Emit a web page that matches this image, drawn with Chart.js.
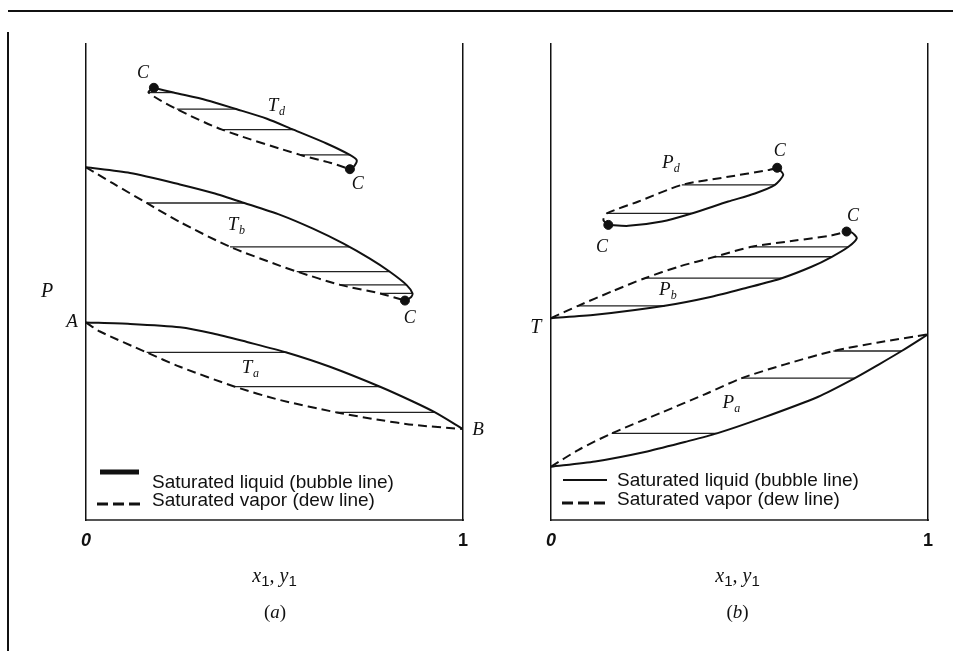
<!DOCTYPE html>
<html>
<head>
<meta charset="utf-8">
<script src="https://cdn.jsdelivr.net/npm/chart.js@4.4.1/dist/chart.umd.min.js"></script>
<style>
html, body { margin: 0; padding: 0; background: #fff; }
#wrap { position: relative; width: 953px; height: 651px; overflow: hidden; background: #fff; }
#wrap canvas { position: absolute; left: 0; top: 0; }
.rule { position: absolute; background: #111; }
</style>
</head>
<body>
<div id="wrap">
  <div class="rule" style="left:8px;top:10px;width:945px;height:2px"></div>
  <div class="rule" style="left:7px;top:32px;width:2px;height:619px"></div>
  <canvas id="chartA" width="953" height="651"></canvas>
  <canvas id="chartB" width="953" height="651"></canvas>
</div>
<script>
// (a) P vs x1,y1 at temperatures Ta < Tb < Td   -- [x1, P]
const taBubble = [[0, 41.5], [0.117, 41.2], [0.249, 40.5], [0.337, 39.2], [0.427, 37.4], [0.532, 35.2], [0.647, 32.2], [0.780, 28.0], [0.867, 24.9], [0.926, 22.6], [1, 19.1]];
const taDew    = [[0, 41.5], [0.037, 39.6], [0.161, 35.2], [0.249, 32.2], [0.395, 28.0], [0.515, 25.2], [0.665, 22.6], [0.780, 21.0], [0.867, 20.0], [1, 19.1]];
const taTies   = [[0.161, 0.532, 35.2], [0.395, 0.780, 28.0], [0.665, 0.926, 22.6]];

const tbBubble = [[0, 74.1], [0.117, 72.9], [0.249, 70.5], [0.337, 68.7], [0.42, 66.6], [0.515, 64.1], [0.602, 61.2], [0.682, 58.1], [0.753, 54.9], [0.805, 52.2], [0.850, 49.4], [0.866, 47.6], [0.862, 46.8], [0.846, 46.1]];
const tbDew    = [[0, 74.1], [0.072, 70.7], [0.161, 66.6], [0.249, 62.6], [0.382, 57.4], [0.515, 53.4], [0.559, 52.2], [0.674, 49.4], [0.780, 47.6], [0.846, 46.1]];
const tbTies   = [[0.161, 0.42, 66.6], [0.382, 0.698, 57.4], [0.559, 0.805, 52.2], [0.674, 0.850, 49.4], [0.780, 0.866, 47.6]];

const tdBubble = [[0.180, 90.8], [0.232, 89.8], [0.320, 88.2], [0.400, 86.3], [0.480, 84.3], [0.550, 82.0], [0.638, 79.1], [0.700, 76.7], [0.718, 75.6], [0.712, 74.4], [0.700, 73.7]];
const tdDew    = [[0.180, 90.8], [0.166, 89.8], [0.241, 86.3], [0.361, 82.0], [0.568, 76.7], [0.650, 75.0], [0.700, 73.7]];
const tdTies   = [[0.166, 0.232, 89.8], [0.241, 0.400, 86.3], [0.361, 0.550, 82.0], [0.568, 0.700, 76.7]];

const criticalA = [[0.180, 90.8], [0.700, 73.7], [0.846, 46.1]];

// (b) T vs x1,y1 at pressures Pa > Pb > Pd   -- [x1, T]
const paBubble = [[0, 11.2], [0.117, 12.3], [0.249, 14.3], [0.355, 16.4], [0.440, 18.2], [0.559, 21.4], [0.709, 25.9], [0.806, 29.8], [0.868, 32.6], [0.930, 35.5], [1, 39.0]];
const paDew    = [[0, 11.2], [0.072, 14.7], [0.161, 18.2], [0.294, 22.6], [0.408, 26.4], [0.506, 29.8], [0.621, 32.7], [0.749, 35.5], [0.868, 37.3], [1, 39.0]];
const paTies   = [[0.161, 0.440, 18.2], [0.506, 0.806, 29.8], [0.749, 0.930, 35.5]];

const pbBubble = [[0, 42.4], [0.117, 43.1], [0.302, 45.0], [0.426, 46.9], [0.515, 48.7], [0.612, 50.8], [0.691, 53.2], [0.745, 55.3], [0.789, 57.4], [0.811, 59.2], [0.798, 60.4], [0.784, 60.6]];
const pbDew    = [[0, 42.4], [0.072, 45.0], [0.161, 48.0], [0.249, 50.8], [0.338, 53.2], [0.435, 55.3], [0.532, 57.4], [0.647, 58.7], [0.745, 59.8], [0.784, 60.6]];
const pbTies   = [[0.072, 0.302, 45.0], [0.249, 0.612, 50.8], [0.435, 0.745, 55.3], [0.532, 0.789, 57.4]];

const pdBubble = [[0.152, 62.0], [0.205, 61.8], [0.294, 62.7], [0.373, 64.4], [0.470, 66.9], [0.541, 68.6], [0.594, 70.4], [0.616, 72.5], [0.603, 73.9], [0.600, 74.0]];
const pdDew    = [[0.152, 62.0], [0.139, 63.0], [0.148, 64.4], [0.232, 66.9], [0.347, 70.4], [0.470, 72.1], [0.576, 73.5], [0.600, 74.0]];
const pdTies   = [[0.148, 0.373, 64.4], [0.347, 0.594, 70.4]];

const criticalB = [[0.152, 62.0], [0.600, 74.0], [0.784, 60.6]];

const INK = '#111';
const SERIF = '"Liberation Serif", "Times New Roman", serif';
const SANS = '"Liberation Sans", Arial, sans-serif';

function toXY(pts) { return pts.map(p => ({ x: p[0], y: p[1] })); }

function curve(pts, dashed) {
    return {
        data: toXY(pts),
        showLine: true,
        borderColor: INK,
        borderWidth: 2,
        borderDash: dashed ? [9, 5] : [],
        pointRadius: 0,
        tension: 0.25,
        fill: false
    };
}

function ties(list) {
    return list.map(t => ({
        data: [{ x: t[0], y: t[2] }, { x: t[1], y: t[2] }],
        showLine: true,
        borderColor: '#222',
        borderWidth: 1.3,
        pointRadius: 0
    }));
}

function dots(pts) {
    return {
        data: toXY(pts),
        showLine: false,
        pointRadius: 4.5,
        pointBackgroundColor: INK,
        pointBorderColor: INK
    };
}

// text on the picture: curve names, C, A, B, axis captions, legend
const notesPlugin = {
    id: 'notes',
    afterDraw(chart, args, opts) {
        const { ctx, chartArea: a } = chart;
        const xs = chart.scales.x, ys = chart.scales.y;
        ctx.save();
        ctx.fillStyle = INK;
        ctx.strokeStyle = INK;
        ctx.textBaseline = 'middle';
        ctx.textAlign = 'center';

        opts.labels.forEach(l => {
            const px = xs.getPixelForValue(l.x), py = ys.getPixelForValue(l.y);
            ctx.font = 'italic ' + (l.size || 19) + 'px ' + SERIF;
            ctx.fillText(l.text, px, py);
            if (l.sub) {
                ctx.font = 'italic 12px ' + SERIF;
                ctx.fillText(l.sub, px + 9, py + 6);
            }
        });

        // axis title x1, y1
        const cx = (a.left + a.right) / 2 + opts.titleShift, ty = a.bottom + 57;
        const parts = [
            ['x', 'italic 20px ' + SERIF, 0], ['1', '15px ' + SANS, 5],
            [', ', 'italic 20px ' + SERIF, 0], ['y', 'italic 20px ' + SERIF, 0], ['1', '15px ' + SANS, 5]
        ];
        let w = 0;
        parts.forEach(p => { ctx.font = p[1]; w += ctx.measureText(p[0]).width; });
        let x0 = cx - w / 2;
        ctx.textAlign = 'left';
        parts.forEach(p => { ctx.font = p[1]; ctx.fillText(p[0], x0, ty + p[2]); x0 += ctx.measureText(p[0]).width; });

        // panel letter
        ctx.font = '19px ' + SERIF;
        const pl = opts.panel;
        const lw = ctx.measureText('(' + pl + ')').width;
        let px = (a.left + a.right) / 2 + opts.titleShift - lw / 2;
        ctx.fillText('(', px, a.bottom + 93); px += ctx.measureText('(').width;
        ctx.font = 'italic 19px ' + SERIF;
        ctx.fillText(pl, px, a.bottom + 93); px += ctx.measureText(pl).width;
        ctx.font = '19px ' + SERIF;
        ctx.fillText(')', px, a.bottom + 93);

        // legend
        const g = opts.legend;
        ctx.font = '19px ' + SANS;
        ctx.fillText('Saturated liquid (bubble line)', a.left + 66, a.bottom + g.t1);
        ctx.fillText('Saturated vapor (dew line)', a.left + 66, a.bottom + g.t2);
        if (g.bar) {
            ctx.fillRect(a.left + 14, a.bottom + g.l1 - 2.5, 39, 5);
        } else {
            ctx.lineWidth = 2;
            ctx.beginPath();
            ctx.moveTo(a.left + 12, a.bottom + g.l1);
            ctx.lineTo(a.left + 56, a.bottom + g.l1);
            ctx.stroke();
        }
        ctx.lineWidth = 3;
        ctx.setLineDash([11, 5]);
        ctx.beginPath();
        ctx.moveTo(a.left + 11, a.bottom + g.l2);
        ctx.lineTo(a.left + 57, a.bottom + g.l2);
        ctx.stroke();
        ctx.restore();
    }
};

function panelOptions(pad, notes) {
    const hideY = {
        min: 0, max: 100,
        afterFit: s => { s.width = 0; },
        grid: { display: false, drawTicks: false },
        ticks: { display: false },
        border: { color: INK, width: 1.5 }
    };
    return {
        responsive: false,
        animation: false,
        layout: { padding: pad },
        plugins: { legend: { display: false }, tooltip: { enabled: false }, notes },
        scales: {
            x: {
                type: 'linear', min: 0, max: 1,
                afterFit: s => { s.height = 34; },
                grid: { display: false, drawTicks: false },
                border: { color: '#555', width: 2 },
                ticks: {
                    stepSize: 1, padding: 10, color: INK,
                    font: c => ({ family: SANS, size: 18, weight: 'bold', style: c.tick && c.tick.value === 0 ? 'italic' : 'normal' }),
                    callback: v => String(v)
                }
            },
            y: Object.assign({ position: 'left' }, hideY),
            y2: Object.assign({ position: 'right' }, hideY)
        }
    };
}

new Chart(document.getElementById('chartA'), {
    type: 'scatter',
    data: {
        datasets: [
            curve(taBubble, false), curve(taDew, true), ...ties(taTies),
            curve(tbBubble, false), curve(tbDew, true), ...ties(tbTies),
            curve(tdBubble, false), curve(tdDew, true), ...ties(tdTies),
            dots(criticalA)
        ]
    },
    options: panelOptions({ left: 86, right: 490, top: 44, bottom: 97 }, {
        panel: 'a', titleShift: 0,
        legend: { bar: true, l1: -48, l2: -16, t1: -37, t2: -19 },
        labels: [
            { text: 'C', x: 0.151, y: 93.9, size: 18 },
            { text: 'T', sub: 'd', x: 0.496, y: 87.0 },
            { text: 'C', x: 0.721, y: 70.6, size: 18 },
            { text: 'T', sub: 'b', x: 0.39, y: 62.0 },
            { text: 'C', x: 0.859, y: 42.4, size: 18 },
            { text: 'T', sub: 'a', x: 0.427, y: 31.9 },
            { text: 'A', x: -0.037, y: 41.6 },
            { text: 'B', x: 1.04, y: 18.9 },
            { text: 'P', x: -0.103, y: 47.9, size: 20 }
        ]
    }),
    plugins: [notesPlugin]
});

new Chart(document.getElementById('chartB'), {
    type: 'scatter',
    data: {
        datasets: [
            curve(paBubble, false), curve(paDew, true), ...ties(paTies),
            curve(pbBubble, false), curve(pbDew, true), ...ties(pbTies),
            curve(pdBubble, false), curve(pdDew, true), ...ties(pdTies),
            dots(criticalB)
        ]
    },
    options: panelOptions({ left: 551, right: 25, top: 44, bottom: 97 }, {
        panel: 'b', titleShift: -2,
        legend: { bar: false, l1: -40, l2: -17, t1: -39, t2: -20 },
        labels: [
            { text: 'C', x: 0.607, y: 77.5, size: 18 },
            { text: 'P', sub: 'd', x: 0.31, y: 75.0 },
            { text: 'C', x: 0.135, y: 57.4, size: 18 },
            { text: 'C', x: 0.801, y: 63.9, size: 18 },
            { text: 'P', sub: 'b', x: 0.302, y: 48.3 },
            { text: 'P', sub: 'a', x: 0.47, y: 24.6 },
            { text: 'T', x: -0.04, y: 40.3, size: 20 }
        ]
    }),
    plugins: [notesPlugin]
});
</script>
</body>
</html>
